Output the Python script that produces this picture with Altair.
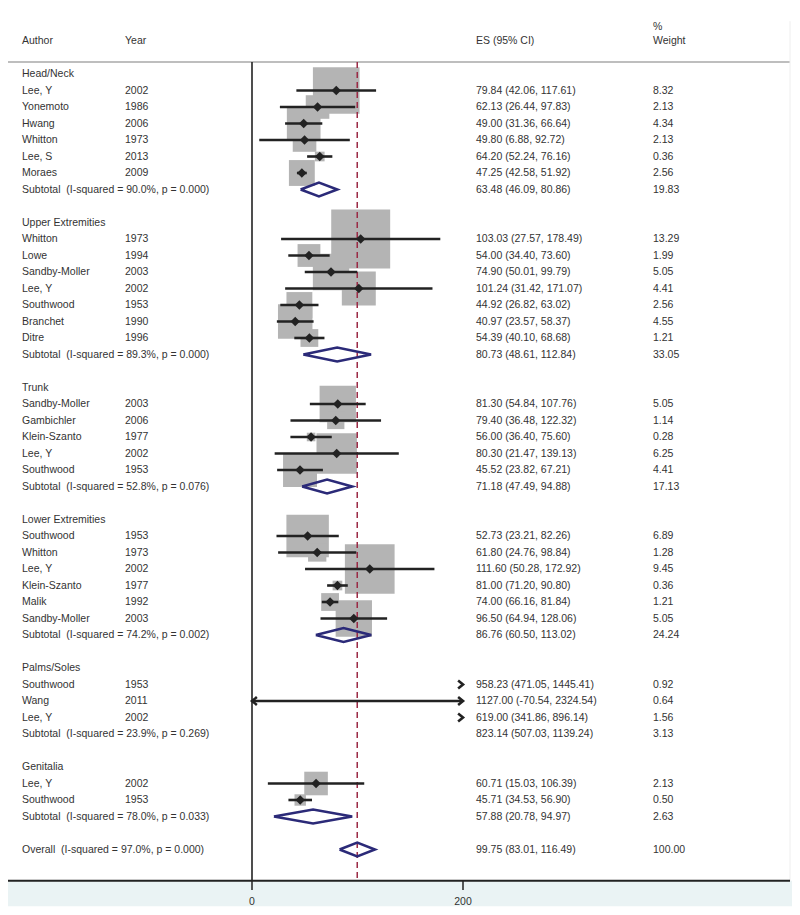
import altair as alt
import pandas as pd

# ---------------- data ----------------
groups = ["Head/Neck", "Upper Extremities", "Trunk", "Lower Extremities", "Palms/Soles", "Genitalia"]

study_group = [0, 0, 0, 0, 0, 0,
               1, 1, 1, 1, 1, 1, 1,
               2, 2, 2, 2, 2,
               3, 3, 3, 3, 3, 3,
               4, 4, 4,
               5, 5]
study_author = ["Lee, Y", "Yonemoto", "Hwang", "Whitton", "Lee, S", "Moraes",
                "Whitton", "Lowe", "Sandby-Moller", "Lee, Y", "Southwood", "Branchet", "Ditre",
                "Sandby-Moller", "Gambichler", "Klein-Szanto", "Lee, Y", "Southwood",
                "Southwood", "Whitton", "Lee, Y", "Klein-Szanto", "Malik", "Sandby-Moller",
                "Southwood", "Wang", "Lee, Y",
                "Lee, Y", "Southwood"]
study_year = [2002, 1986, 2006, 1973, 2013, 2009,
              1973, 1994, 2003, 2002, 1953, 1990, 1996,
              2003, 2006, 1977, 2002, 1953,
              1953, 1973, 2002, 1977, 1992, 2003,
              1953, 2011, 2002,
              2002, 1953]
study_es = [79.84, 62.13, 49.00, 49.80, 64.20, 47.25,
            103.03, 54.00, 74.90, 101.24, 44.92, 40.97, 54.39,
            81.30, 79.40, 56.00, 80.30, 45.52,
            52.73, 61.80, 111.60, 81.00, 74.00, 96.50,
            958.23, 1127.00, 619.00,
            60.71, 45.71]
study_lo = [42.06, 26.44, 31.36, 6.88, 52.24, 42.58,
            27.57, 34.40, 50.01, 31.42, 26.82, 23.57, 40.10,
            54.84, 36.48, 36.40, 21.47, 23.82,
            23.21, 24.76, 50.28, 71.20, 66.16, 64.94,
            471.05, -70.54, 341.86,
            15.03, 34.53]
study_hi = [117.61, 97.83, 66.64, 92.72, 76.16, 51.92,
            178.49, 73.60, 99.79, 171.07, 63.02, 58.37, 68.68,
            107.76, 122.32, 75.60, 139.13, 67.21,
            82.26, 98.84, 172.92, 90.80, 81.84, 128.06,
            1445.41, 2324.54, 896.14,
            106.39, 56.90]
study_wt = [8.32, 2.13, 4.34, 2.13, 0.36, 2.56,
            13.29, 1.99, 5.05, 4.41, 2.56, 4.55, 1.21,
            5.05, 1.14, 0.28, 6.25, 4.41,
            6.89, 1.28, 9.45, 0.36, 1.21, 5.05,
            0.92, 0.64, 1.56,
            2.13, 0.50]

sub_i2 = [90.0, 89.3, 52.8, 74.2, 23.9, 78.0]
sub_p = [0.000, 0.000, 0.076, 0.002, 0.269, 0.033]
sub_es = [63.48, 80.73, 71.18, 86.76, 823.14, 57.88]
sub_lo = [46.09, 48.61, 47.49, 60.50, 507.03, 20.78]
sub_hi = [80.86, 112.84, 94.88, 113.02, 1139.24, 94.97]
sub_wt = [19.83, 33.05, 17.13, 24.24, 3.13, 2.63]

overall_i2, overall_p = 97.0, 0.000
overall_es, overall_lo, overall_hi, overall_wt = 99.75, 83.01, 116.49, 100.00

x_ticks = [0, 200]
x_min, x_max = 0, 200  # visible range of the plot

# ---------------- table ----------------
def ci_text(es, lo, hi):
    return f"{es:.2f} ({lo:.2f}, {hi:.2f})"

records = []
r = 0
for gi, g in enumerate(groups):
    records.append(dict(row=r, kind="group", label=g, year="", es=None, lo=None, hi=None, wt=None,
                        estext="", wttext=""))
    r += 1
    for i in range(len(study_group)):
        if study_group[i] != gi:
            continue
        records.append(dict(row=r, kind="study", label=study_author[i], year=str(study_year[i]),
                            es=study_es[i], lo=study_lo[i], hi=study_hi[i], wt=study_wt[i],
                            estext=ci_text(study_es[i], study_lo[i], study_hi[i]),
                            wttext=f"{study_wt[i]:.2f}"))
        r += 1
    records.append(dict(row=r, kind="sub",
                        label=f"Subtotal\u00a0 (I-squared = {sub_i2[gi]:.1f}%, p = {sub_p[gi]:.3f})",
                        year="", es=sub_es[gi], lo=sub_lo[gi], hi=sub_hi[gi], wt=sub_wt[gi],
                        estext=ci_text(sub_es[gi], sub_lo[gi], sub_hi[gi]),
                        wttext=f"{sub_wt[gi]:.2f}"))
    r += 2
records.append(dict(row=r, kind="sub",
                    label=f"Overall\u00a0 (I-squared = {overall_i2:.1f}%, p = {overall_p:.3f})",
                    year="", es=overall_es, lo=overall_lo, hi=overall_hi, wt=overall_wt,
                    estext=ci_text(overall_es, overall_lo, overall_hi),
                    wttext=f"{overall_wt:.2f}"))
df = pd.DataFrame(records)

studies = df[df.kind == "study"].copy()
studies["lo_c"] = studies["lo"].clip(lower=x_min, upper=x_max)
studies["hi_c"] = studies["hi"].clip(lower=x_min, upper=x_max)
ci_lines = studies[studies.lo_c < studies.hi_c]
boxes = studies[(studies.es >= x_min) & (studies.es <= x_max)]
right_arrows = studies[studies.hi > x_max].assign(xa=x_max)
left_arrows = studies[studies.lo < x_min].assign(xa=x_min)

subs = df[(df.kind == "sub") & (df.es <= x_max)]
dh = 0.42  # half-height of summary diamond in rows
verts = []
for _, s in subs.iterrows():
    pts = [(s.lo, s.row), (s.es, s.row - dh), (s.hi, s.row), (s.es, s.row + dh), (s.lo, s.row)]
    for k, (xx, yy) in enumerate(pts):
        verts.append(dict(key=int(s.row), o=k, x=xx, y=yy))
verts = pd.DataFrame(verts)

# ---------------- scales ----------------
W, H = 784, 899
px_per_unit = 211 / 200.0
x0_px = 244
xscale = alt.Scale(domain=[-x0_px / px_per_unit, (W - x0_px) / px_per_unit], nice=False, zero=False)
row_top = -4
row_px = 16.5
row_bottom = row_top + H / row_px
yscale = alt.Scale(domain=[row_top, row_bottom], reverse=True, nice=False, zero=False)

def X(f):
    return alt.X(f, type="quantitative", scale=xscale, axis=None)

def Y(f):
    return alt.Y(f, type="quantitative", scale=yscale, axis=None)

FONT = "Liberation Sans"
FS = 10.5
TXT = "#333333"

top_row = -0.73
axis_row = 48.9
head_row = -2.0
pct_row = -2.85

frame = pd.DataFrame({"y": [top_row], "y2": [axis_row], "x": [overall_es], "z": [0]})

band = alt.Chart(pd.DataFrame({"a": [axis_row], "b": [row_bottom - 0.05]})).mark_rect(
    color="#eaf3f4").encode(x=alt.value(0), x2=alt.value(W), y=Y("a"), y2=alt.Y2("b"))

header_line = alt.Chart(pd.DataFrame({"y": [top_row]})).mark_rule(
    color="#a8a8a8", strokeWidth=1.5).encode(x=alt.value(0), x2=alt.value(W - 2), y=Y("y"))

right_edge = alt.Chart(pd.DataFrame({"y": [-3.2], "y2": [axis_row]})).mark_rule(
    color="#eeeeee", strokeWidth=1).encode(x=alt.value(W - 2), y=Y("y"), y2=alt.Y2("y2"))

zero_line = alt.Chart(frame).mark_rule(color="#222222", strokeWidth=1.6).encode(
    x=X("z"), y=Y("y"), y2=alt.Y2("y2"))

dash_line = alt.Chart(frame).mark_rule(color="#9a2a45", strokeWidth=1.5, strokeDash=[6, 4]).encode(
    x=X("x"), y=Y("y"), y2=alt.Y2("y2"))

axis_line = alt.Chart(pd.DataFrame({"y": [axis_row]})).mark_rule(
    color="#222222", strokeWidth=2).encode(x=alt.value(0), x2=alt.value(W - 2), y=Y("y"))

ticks_df = pd.DataFrame({"t": x_ticks, "y": [axis_row] * 2, "y2": [axis_row + 0.55] * 2,
                         "ly": [axis_row + 1.3] * 2, "lab": [str(t) for t in x_ticks]})
ticks = alt.Chart(ticks_df).mark_rule(color="#222222", strokeWidth=1.5).encode(
    x=X("t"), y=Y("y"), y2=alt.Y2("y2"))
tick_labels = alt.Chart(ticks_df).mark_text(font=FONT, fontSize=FS, color=TXT, baseline="middle",
                                            align="center").encode(x=X("t"), y=Y("ly"), text="lab:N")

box_layer = alt.Chart(boxes).mark_square(color="#b4b4b4", opacity=1, strokeWidth=0).encode(
    x=X("es"), y=Y("row"),
    size=alt.Size("wt:Q", scale=alt.Scale(type="linear", domain=[0, 100], range=[0, 26150]), legend=None))

ci_layer = alt.Chart(ci_lines).mark_rule(color="#222222", strokeWidth=2.6).encode(
    x=X("lo_c"), x2=alt.X2("hi_c"), y=Y("row"))

pt_layer = alt.Chart(boxes).mark_point(shape="diamond", filled=True, color="#222222", size=90,
                                       opacity=1).encode(x=X("es"), y=Y("row"))

ra_layer = alt.Chart(right_arrows).mark_point(shape="M-1,-0.8L0,0L-1,0.8", filled=False,
                                              color="#222222", size=95, strokeWidth=2.6,
                                              opacity=1).encode(x=X("xa"), y=Y("row"))
la_layer = alt.Chart(left_arrows).mark_point(shape="M1,-0.8L0,0L1,0.8", filled=False,
                                             color="#222222", size=95, strokeWidth=2.6,
                                             opacity=1).encode(x=X("xa"), y=Y("row"))

diamond_layer = alt.Chart(verts).mark_line(color="#2b2a78", strokeWidth=2.6, strokeJoin="miter").encode(
    x=X("x"), y=Y("y"), order="o:Q", detail="key:N")

def text_layer(data, field, xpix):
    return alt.Chart(data).mark_text(font=FONT, fontSize=FS, color=TXT, align="left",
                                     baseline="middle").encode(
        x=alt.value(xpix), y=Y("row"), text=f"{field}:N")

col_author, col_year, col_es, col_wt = 14, 117, 468, 645

t_label = text_layer(df, "label", col_author)
t_year = text_layer(df[df.year != ""], "year", col_year)
t_es = text_layer(df[df.estext != ""], "estext", col_es)
t_wt = text_layer(df[df.wttext != ""], "wttext", col_wt)

hdr = pd.DataFrame({"row": [head_row, head_row, head_row, head_row, pct_row],
                    "txt": ["Author", "Year", "ES (95% CI)", "Weight", "%"],
                    "col": ["a", "y", "e", "w", "w"]})
hdr_layers = [
    text_layer(hdr[hdr.col == "a"], "txt", col_author),
    text_layer(hdr[hdr.col == "y"], "txt", col_year),
    text_layer(hdr[hdr.col == "e"], "txt", col_es),
    text_layer(hdr[hdr.col == "w"], "txt", col_wt),
]

chart = alt.layer(
    band, header_line, right_edge, box_layer, zero_line, dash_line, ci_layer, pt_layer,
    ra_layer, la_layer, diamond_layer, axis_line, ticks, tick_labels,
    t_label, t_year, t_es, t_wt, *hdr_layers
).properties(
    width=W, height=H, autosize=alt.AutoSizeParams(type="none"), padding=0, background="white"
).configure_view(stroke=None)

chart.save("out.html", embed_options={"renderer": "svg", "actions": False})
